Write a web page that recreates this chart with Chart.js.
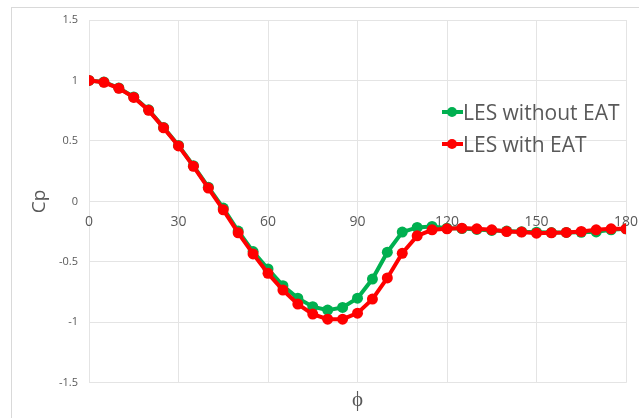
<!DOCTYPE html>
<html>
<head>
<meta charset="utf-8">
<script src="https://cdn.jsdelivr.net/npm/chart.js@4"></script>
<style>
  body { margin: 0; background: #fff; font-family: "Open Sans", sans-serif; }
  #wrap { position: relative; width: 639px; height: 418px; overflow: hidden; }
  #frame { position: absolute; left: 11px; top: 7px; right: -2px; bottom: -2px;
    border-left: 1px solid #d9d9d9; border-top: 1px solid #d9d9d9; pointer-events: none; }
  canvas { position: absolute; left: 0; top: 0; }
  .leg { position: absolute; left: 442px; height: 30px; line-height: 30px;
    font-size: 21px; color: #595959; white-space: nowrap; }
  .mk { display: inline-block; position: relative; width: 21px; height: 30px; vertical-align: top; }
  .mk .ln { position: absolute; left: 0; right: 0; top: 13px; height: 4px; }
  .mk .dt { position: absolute; left: 5px; top: 10px; width: 10px; height: 10px; border-radius: 50%; }
</style>
</head>
<body>
<div id="wrap">
  <canvas id="chart" width="639" height="418"></canvas>
  <div id="frame"></div>
  <div class="leg" style="top:97px"><span class="mk"><span class="ln" style="background:#00b050"></span><span class="dt" style="background:#00b050"></span></span>LES without EAT</div>
  <div class="leg" style="top:129px"><span class="mk"><span class="ln" style="background:#ff0000"></span><span class="dt" style="background:#ff0000"></span></span>LES with EAT</div>
</div>
<script>
const PHI = [0, 5, 10, 15, 20, 25, 30, 35, 40, 45, 50, 55, 60, 65, 70, 75, 80, 85, 90,
  95, 100, 105, 110, 115, 120, 125, 130, 135, 140, 145, 150, 155, 160, 165, 170, 175, 180];
const CP_WITHOUT = [1.0, 0.988, 0.938, 0.864, 0.757, 0.612, 0.463, 0.295, 0.118, -0.055, -0.245, -0.415,
  -0.559, -0.697, -0.8, -0.871, -0.899, -0.877, -0.8, -0.642, -0.42, -0.254, -0.215, -0.207,
  -0.222, -0.225, -0.232, -0.24, -0.245, -0.25, -0.255, -0.258, -0.257, -0.255, -0.252, -0.235, -0.227];
const CP_WITH = [1.0, 0.985, 0.935, 0.86, 0.753, 0.608, 0.459, 0.29, 0.11, -0.07, -0.26, -0.434,
  -0.595, -0.733, -0.849, -0.932, -0.974, -0.974, -0.924, -0.808, -0.633, -0.429, -0.285, -0.235,
  -0.227, -0.221, -0.227, -0.235, -0.249, -0.254, -0.263, -0.26, -0.257, -0.249, -0.235, -0.227, -0.227];
const X_TICKS = { min: 0, max: 180, step: 30 };
const Y_TICKS = { min: -1.5, max: 1.5, step: 0.5 };

const pts = (ys) => PHI.map((x, i) => ({ x, y: ys[i] }));
const ds = (label, ys, color, order) => ({
  label, data: pts(ys), borderColor: color, backgroundColor: color, order,
  borderWidth: 4, pointRadius: 5.5, pointBorderWidth: 0, tension: 0,
});
const GRID = "#e4e4e4", TXT = "#595959";

new Chart(document.getElementById("chart"), {
  type: "line",
  data: { datasets: [
    ds("LES without EAT", CP_WITHOUT, "#00b050", 1),
    ds("LES with EAT", CP_WITH, "#ff0000", 0),
  ]},
  options: {
    responsive: false, animation: false,
    layout: { padding: { left: 0, top: 20, right: 0, bottom: 0 } },
    scales: {
      x: {
        type: "linear", position: { y: 0 }, min: X_TICKS.min, max: X_TICKS.max,
        ticks: { stepSize: X_TICKS.step, color: TXT, font: { family: "Open Sans", size: 14 }, padding: 12 },
        grid: { color: GRID, drawTicks: false }, border: { display: false },
        afterFit: (s) => { s.paddingRight = 13; },
      },
      y: {
        min: Y_TICKS.min, max: Y_TICKS.max,
        ticks: { stepSize: Y_TICKS.step, color: TXT, font: { family: "Open Sans", size: 11 }, padding: 11,
          callback: (v) => String(+v.toFixed(1)) },
        grid: { color: GRID, drawTicks: false }, border: { display: false },
        title: { display: true, text: "Cp", color: TXT, font: { family: "Open Sans", size: 19 }, padding: { top: 28 } },
        afterFit: (s) => { s.width = 89; },
      },
    },
    plugins: {
      legend: { display: false },
      tooltip: { enabled: false },
      title: { display: true, position: "bottom", fullSize: false, text: "ϕ", color: TXT,
        font: { family: "Open Sans", size: 21, weight: "normal" }, padding: { top: 5, bottom: 5 } },
    },
  },
});
</script>
</body>
</html>
